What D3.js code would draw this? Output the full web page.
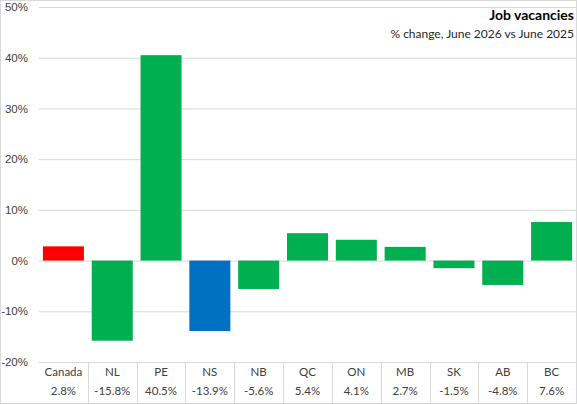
<!DOCTYPE html>
<html>
<head>
<meta charset="utf-8">
<script src="https://cdn.jsdelivr.net/npm/d3@7"></script>
<style>
  html, body { margin: 0; padding: 0; background: #fff; }
  svg { display: block; font-family: Lato, "Noto Sans", sans-serif; }
</style>
</head>
<body>
<svg class="js-chart"></svg>
<script>
var categories = ["Canada", "NL", "PE", "NS", "NB", "QC", "ON", "MB", "SK", "AB", "BC"];
var values = [2.8, -15.8, 40.5, -13.9, -5.6, 5.4, 4.1, 2.7, -1.5, -4.8, 7.6];
var valueLabels = ["2.8%", "-15.8%", "40.5%", "-13.9%", "-5.6%", "5.4%", "4.1%", "2.7%", "-1.5%", "-4.8%", "7.6%"];
var yTicks = [-20, -10, 0, 10, 20, 30, 40, 50];

var width = 577, height = 404;
var margin = { top: 7, right: 1, bottom: 42, left: 39 };

var colorFor = function (name) {
    if (name === "Canada") return "#ff0000";
    if (name === "NS") return "#0070c0";
    return "#00b050";
};

var svg = d3.select(".js-chart")
    .attr("width", width)
    .attr("height", height);

var x = d3.scaleBand()
    .domain(categories)
    .range([margin.left, width - margin.right])
    .paddingInner(0.16)
    .paddingOuter(0.08);

var y = d3.scaleLinear()
    .domain([-20, 50])
    .range([height - margin.bottom, margin.top]);

// outer border
svg.append("rect")
    .attr("x", 0.5).attr("y", 0.5)
    .attr("width", width - 1).attr("height", height - 1)
    .attr("fill", "none")
    .attr("stroke", "#d9d9d9");

// gridlines + labels
var yAxis = d3.axisLeft(y)
    .tickValues(yTicks)
    .tickSize(-(width - margin.right - margin.left))
    .tickFormat(function (d) { return d + "%"; });

svg.append("g")
    .attr("transform", "translate(" + margin.left + ",0)")
    .call(yAxis)
    .call(function (g) {
        g.select(".domain").remove();
        g.selectAll(".tick line").attr("stroke", "#d9d9d9");
        g.selectAll(".tick text")
            .attr("x", -11)
            .attr("fill", "#404040")
            .style("font-size", "11.5px");
    });

// bars
svg.append("g").selectAll("rect").data(categories)
    .enter().append("rect")
        .attr("x", function (d) { return x(d); })
        .attr("width", x.bandwidth())
        .attr("y", function (d, i) { return y(Math.max(0, values[i])); })
        .attr("height", function (d, i) { return Math.abs(y(values[i]) - y(0)); })
        .attr("fill", colorFor);

// data table under the axis
var step = x.step();
var bandStart = function (d) { return x(d) - step * x.paddingInner() / 2; };

svg.append("g").selectAll("line").data(categories.slice(1))
    .enter().append("line")
        .attr("x1", function (d) { return Math.round(bandStart(d)) + 0.5; })
        .attr("x2", function (d) { return Math.round(bandStart(d)) + 0.5; })
        .attr("y1", y(-20))
        .attr("y2", height)
        .attr("stroke", "#d9d9d9");

var labels = svg.append("g")
    .attr("fill", "#404040")
    .style("font-size", "11.5px")
    .attr("text-anchor", "middle");

labels.selectAll(".cat").data(categories)
    .enter().append("text")
        .attr("class", "cat")
        .attr("x", function (d) { return x(d) + x.bandwidth() / 2; })
        .attr("y", 376)
        .text(String);

labels.selectAll(".val").data(valueLabels)
    .enter().append("text")
        .attr("class", "val")
        .attr("x", function (d, i) { return x(categories[i]) + x.bandwidth() / 2; })
        .attr("y", 395)
        .text(String);

// title
svg.append("text")
    .attr("x", 574).attr("y", 20)
    .attr("text-anchor", "end")
    .attr("fill", "#000")
    .style("font-size", "14px")
    .style("font-weight", "bold")
    .text("Job vacancies");

svg.append("text")
    .attr("x", 574).attr("y", 38)
    .attr("text-anchor", "end")
    .attr("fill", "#262626")
    .style("font-size", "12px")
    .text("% change, June 2026 vs June 2025");
</script>
</body>
</html>
